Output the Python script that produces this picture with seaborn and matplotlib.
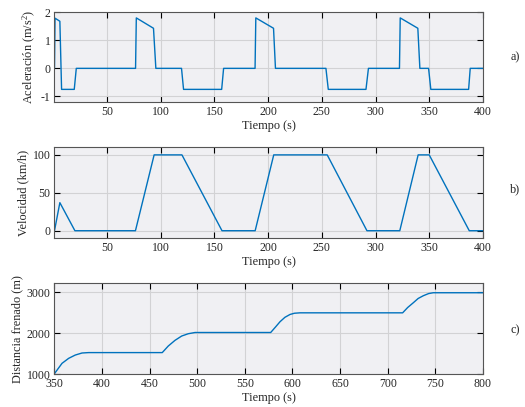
import matplotlib
matplotlib.use("Agg")
import matplotlib.pyplot as plt
import seaborn as sns

# ---- data ----
acc_t = [1, 1.5, 6.0, 7.6, 19.4, 21.3, 76.5, 77.2, 93.2, 95.4, 119.3, 121.2, 156.7, 158.5,
         187.8, 188.5, 205.0, 206.8, 253.8, 256.0, 291.1, 293.4, 322.3, 323.0, 339.4, 341.3,
         349.4, 351.5, 386.7, 388.2, 400]
acc_v = [0, 1.79, 1.68, -0.75, -0.75, 0, 0, 1.80, 1.43, 0, 0, -0.75, -0.75, 0,
         0, 1.80, 1.43, 0, 0, -0.75, -0.75, 0, 0, 1.80, 1.43, 0,
         0, -0.75, -0.75, 0, 0]

vel_t = [1, 6, 20, 76.4, 93.8, 119.7, 157, 187.9, 205.2, 255, 292, 322.6, 339.7, 350, 387.3, 400]
vel_v = [0, 37, 0, 0, 100, 100, 0, 0, 100, 100, 0, 0, 100, 100, 0, 0]

dist_t = [350.2, 357.9, 364.9, 371.8, 378.9, 385.9,
          463.2, 469.5, 476.6, 483.6, 490.5, 497.6,
          577.1, 582.0, 586.9, 592.0, 597.4, 602.0, 607.9,
          715.7, 721.0, 726.9, 732.0, 737.4, 743.0, 747.9, 800]
dist_v = [1024, 1268, 1390, 1470, 1520, 1530,
          1530, 1690, 1829, 1934, 1990, 2020,
          2020, 2150, 2283, 2390, 2460, 2490, 2500,
          2500, 2630, 2746, 2850, 2917, 2970, 2990, 2990]

xticks_ab = [50, 100, 150, 200, 250, 300, 350, 400]
xticks_c = [350, 400, 450, 500, 550, 600, 650, 700, 750, 800]
yticks_a = [-1, 0, 1, 2]
yticks_b = [0, 50, 100]
yticks_c = [1000, 2000, 3000]

ylabels = ["Aceleración (m/s$^2$)", "Velocidad (km/h)", "Distancia frenado (m)"]
panel_tags = ["a)", "b)", "c)"]
xlabel = "Tiempo (s)"

# ---- style ----
sns.set_style("ticks")
plt.rcParams["font.family"] = ["Liberation Serif", "DejaVu Serif"]
plt.rcParams["mathtext.fontset"] = "custom"
plt.rcParams["mathtext.rm"] = "Liberation Serif"
plt.rcParams["mathtext.it"] = "Liberation Serif:italic"
plt.rcParams["mathtext.bf"] = "Liberation Serif:bold"
plt.rcParams["axes.unicode_minus"] = False

line_color = "#0072BD"
face = "#f0f0f3"

fig = plt.figure(figsize=(5.25, 4.07), dpi=100)
left, width = 0.1038, 0.816
boxes = [(left, 0.7494, width, 0.2204),
         (left, 0.4145, width, 0.2236),
         (left, 0.0803, width, 0.2236)]
axes = [fig.add_axes(b) for b in boxes]

series = [(acc_t, acc_v), (vel_t, vel_v), (dist_t, dist_v)]
xlims = [(1, 400), (1, 400), (350, 800)]
ylims = [(-1.2, 2), (-10, 110), (1000, 3220)]
xt = [xticks_ab, xticks_ab, xticks_c]
yt = [yticks_a, yticks_b, yticks_c]
tag_y = [57, 189, 330]

for i, ax in enumerate(axes):
    ax.set_facecolor(face)
    x, y = series[i]
    sns.lineplot(x=x, y=y, ax=ax, color=line_color, linewidth=1.0,
                 estimator=None, sort=False)
    ax.set_xlim(*xlims[i])
    ax.set_ylim(*ylims[i])
    ax.set_xticks(xt[i])
    ax.set_yticks(yt[i])
    ax.grid(True, color="#d2d2d4", linewidth=0.8)
    ax.set_axisbelow(True)
    for s in ax.spines.values():
        s.set_visible(True)
        s.set_color("#555555")
        s.set_linewidth(0.8)
    ax.tick_params(direction="in", top=True, right=True, length=4, width=0.8,
                   color="black", labelsize=8.5, pad=3)
    ax.set_xlabel(xlabel, fontsize=8.8, labelpad=1)
    ax.set_ylabel(ylabels[i], fontsize=8.8, labelpad=2)
    fig.text(515 / 525, 1 - tag_y[i] / 407, panel_tags[i], fontsize=8.8,
             ha="center", va="center")

fig.savefig("out.png", dpi=100)
